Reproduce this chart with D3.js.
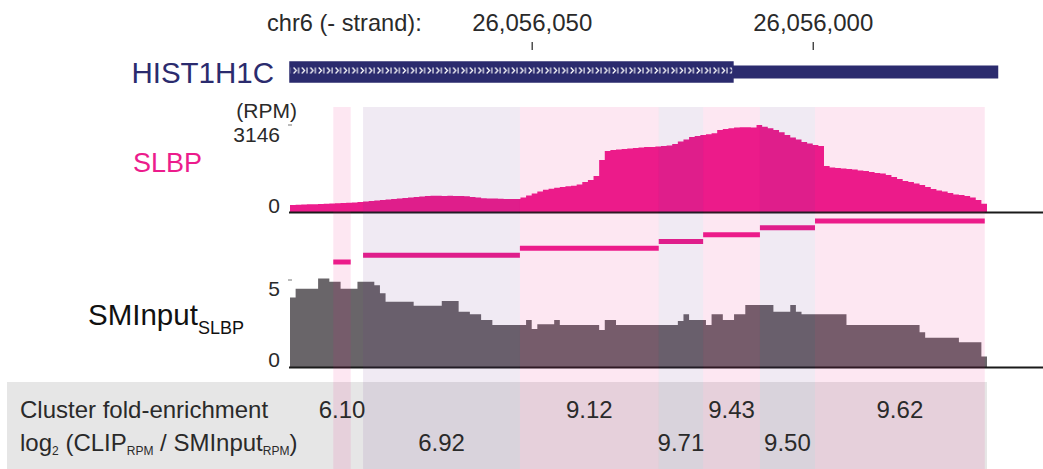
<!DOCTYPE html>
<html>
<head>
<meta charset="utf-8">
<script src="https://cdn.jsdelivr.net/npm/d3@7"></script>
<style>
  html, body { margin: 0; padding: 0; background: #fff; }
  svg { display: block; }
  text { font-family: "Liberation Sans", Arial, Helvetica, sans-serif; }
</style>
</head>
<body>
<svg id="chart" width="1043" height="469"></svg>
<script>
// ---- genomic window (minus strand: coordinates decrease left → right)
const viewStart = 26056093;
const viewEnd = 26055969;
const axisTicks = [26056050, 26056000];
const axisTitle = "chr6 (- strand):";

// ---- gene model
const geneName = "HIST1H1C";
const geneStart = 26056093;
const geneCdsEnd = 26056014.2;
const geneEnd = 26055967;

// ---- per-base coverage, first base = binStart, one value per base moving right
const binStart = 26056093;
const slbpRPM = [
  253, 260, 268, 276, 282, 289, 297, 307, 315, 325,
  336, 347, 362, 380, 394, 412, 430, 452, 470, 488,
  506, 524, 542, 560, 579, 589, 586, 579, 586, 579,
  579, 571, 542, 524, 495, 488, 485, 477, 474, 470,
  470, 524, 597, 669, 741, 803, 839, 875, 904, 929,
  947, 994, 1085, 1157, 1302, 1880, 2206, 2242, 2260, 2278,
  2296, 2314, 2332, 2350, 2350, 2368, 2387, 2405, 2459, 2549,
  2622, 2712, 2748, 2784, 2810, 2846, 2965, 3001, 3027, 3056,
  3063, 3063, 3056, 3146, 3081, 3027, 2965, 2882, 2784, 2694,
  2622, 2531, 2477, 2423, 2387, 1663, 1609, 1591, 1573, 1555,
  1537, 1501, 1483, 1446, 1410, 1392, 1338, 1266, 1193, 1121,
  1085, 1031, 976, 904, 832, 777, 741, 687, 633, 615,
  579, 524, 434, 300
];
const inputRPM = [
  4.00, 4.50, 4.50, 4.50, 4.50, 5.08, 5.08, 4.90, 4.90, 4.50,
  4.50, 4.50, 4.90, 4.90, 4.90, 4.70, 4.24, 3.75, 3.75, 3.75,
  3.75, 3.75, 3.52, 3.52, 3.52, 3.52, 3.52, 3.79, 3.79, 3.79,
  3.18, 3.18, 3.03, 3.03, 2.70, 2.70, 2.41, 2.41, 2.41, 2.41,
  2.41, 2.41, 2.70, 2.18, 2.45, 2.45, 2.45, 2.70, 2.41, 2.41,
  2.41, 2.41, 2.41, 2.41, 2.41, 2.13, 2.70, 2.70, 2.41, 2.41,
  2.41, 2.41, 2.41, 2.41, 2.41, 2.41, 2.41, 2.41, 2.41, 2.64,
  3.03, 2.70, 2.70, 2.70, 2.41, 3.03, 3.03, 2.70, 2.70, 3.03,
  3.03, 3.56, 3.56, 3.56, 3.56, 3.56, 3.18, 3.18, 3.18, 3.56,
  3.18, 3.03, 3.03, 3.03, 3.03, 3.03, 3.03, 3.03, 3.03, 2.41,
  2.41, 2.41, 2.41, 2.41, 2.41, 2.41, 2.41, 2.41, 2.41, 2.41,
  2.41, 2.41, 1.99, 1.68, 1.68, 1.68, 1.68, 1.68, 1.68, 1.42,
  1.42, 1.42, 1.42, 0.60
];
const slbpMax = 3146;
const inputMax = 5;

// ---- CLIP clusters
const clusterStart = [26056085.3, 26056080.0, 26056052.1, 26056027.4, 26056019.5, 26056009.4, 26055999.6];
const clusterEnd   = [26056082.2, 26056052.1, 26056027.4, 26056019.5, 26056009.4, 26055999.6, 26055969.4];
const clusterFold  = ["6.10", "6.92", "9.12", "9.71", "9.43", "9.50", "9.62"];

// ---- styling
const MAGENTA = "#ec1c8c";
const NAVY = "#2b2b6e";
const GREY_FILL = "#696569";
const TEXT = "#2a2a2a";

const svg = d3.select("#chart");

const x = d3.scaleLinear().domain([viewStart, viewEnd]).range([290, 987]);
const ySlbp = d3.scaleLinear().domain([0, slbpMax]).range([212, 125]);
const yInput = d3.scaleLinear().domain([0, inputMax]).range([367, 280]);
const yLane = d3.scalePoint().domain(d3.range(clusterFold.length)).range([262, 221]);

const clusters = clusterFold.map((v, i) => ({ i, start: clusterStart[i], end: clusterEnd[i], label: v }));

// ---- bottom summary panel
svg.append("rect").attr("x", 7).attr("y", 382).attr("width", 980).attr("height", 87).attr("fill", "#e6e6e6");

// ---- genomic axis
svg.append("text").attr("x", 267).attr("y", 31).attr("font-size", 23.6).attr("fill", TEXT).text(axisTitle);
const axisG = svg.append("g").attr("transform", "translate(0,42)");
const axis = d3.axisTop(x).tickValues(axisTicks).tickSize(0).tickFormat(d3.format(","));
axisG.call(axis);
axisG.select(".domain").remove();
axisG.selectAll(".tick text").attr("font-size", 24).attr("fill", TEXT).attr("dy", "-0.02em")
  .attr("y", -11).attr("font-family", '"Liberation Sans", Arial, sans-serif');
axisG.selectAll(".tick").append("line").attr("y1", 0).attr("y2", 8).attr("stroke", "#333").attr("stroke-width", 1.3);

// ---- gene model
svg.append("text").attr("x", 274).attr("y", 83).attr("text-anchor", "end")
  .attr("font-size", 29.5).attr("fill", NAVY).text(geneName);

const defs = svg.append("defs");
const pat = defs.append("pattern").attr("id", "strandArrows").attr("patternUnits", "userSpaceOnUse")
  .attr("width", 8.4).attr("height", 20).attr("x", x(geneStart) + 2);
pat.append("rect").attr("width", 8.4).attr("height", 20).attr("fill", NAVY);
pat.append("path").attr("d", "M1.5,7.5 L4.3,10.5 L1.5,13.5").attr("fill", "none").attr("stroke", "#fff").attr("stroke-width", 1.2);
pat.append("path").attr("d", "M6.6,7.5 V13.5").attr("stroke", "#fff").attr("stroke-width", 1.1);

svg.append("rect").attr("x", x(geneCdsEnd)).attr("y", 65.5)
  .attr("width", x(geneEnd) - x(geneCdsEnd)).attr("height", 13).attr("fill", NAVY);
svg.append("rect").attr("x", x(geneStart)).attr("y", 62)
  .attr("width", x(geneCdsEnd) - x(geneStart)).attr("height", 20)
  .attr("fill", "url(#strandArrows)").attr("stroke", NAVY).attr("stroke-width", 1.5);

// ---- coverage tracks
function binPoints(values) {
  const pts = values.map((v, i) => ({ pos: binStart - i, v }));
  pts.push({ pos: binStart - values.length, v: values[values.length - 1] });
  return pts;
}

const slbpArea = d3.area().curve(d3.curveStepAfter)
  .x(d => x(d.pos)).y0(ySlbp(0)).y1(d => ySlbp(d.v));
svg.append("path").datum(binPoints(slbpRPM)).attr("d", slbpArea).attr("fill", MAGENTA);

const inputArea = d3.area().curve(d3.curveStepAfter)
  .x(d => x(d.pos)).y0(yInput(0)).y1(d => yInput(d.v));
svg.append("path").datum(binPoints(inputRPM)).attr("d", inputArea).attr("fill", GREY_FILL);

// baselines
[ySlbp(0), yInput(0)].forEach(y0 => {
  svg.append("line").attr("x1", 289).attr("x2", 1043).attr("y1", y0 + 0.5).attr("y2", y0 + 0.5)
    .attr("stroke", "#1a1a1a").attr("stroke-width", 2);
});

// cluster lanes
svg.append("g").selectAll("line").data(clusters).join("line")
  .attr("x1", d => x(d.start)).attr("x2", d => x(d.end))
  .attr("y1", d => yLane(d.i)).attr("y2", d => yLane(d.i))
  .attr("stroke", MAGENTA).attr("stroke-width", 5);

// cluster shading across all tracks
svg.append("g").selectAll("rect").data(clusters).join("rect")
  .attr("x", d => x(d.start)).attr("width", d => x(d.end) - x(d.start))
  .attr("y", 107).attr("height", 469 - 107)
  .attr("fill", d => d.i % 2 === 0 ? "rgba(236,20,130,0.10)" : "rgba(105,45,135,0.10)");

// ---- track scale labels
svg.append("text").attr("x", 297).attr("y", 118).attr("text-anchor", "end").attr("font-size", 21).attr("fill", TEXT).text("(RPM)");
function scaleLabel(y, value, base) {
  svg.append("text").attr("x", 280).attr("y", base).attr("text-anchor", "end").attr("font-size", 21).attr("fill", TEXT).text(value);
  svg.append("line").attr("x1", 288).attr("x2", 292).attr("y1", y).attr("y2", y).attr("stroke", "#777").attr("stroke-width", 1);
}
scaleLabel(ySlbp(slbpMax), slbpMax, 142);
svg.append("text").attr("x", 280).attr("y", 213).attr("text-anchor", "end").attr("font-size", 21).attr("fill", TEXT).text("0");
scaleLabel(yInput(inputMax), inputMax, 296);
svg.append("text").attr("x", 280).attr("y", 367).attr("text-anchor", "end").attr("font-size", 21).attr("fill", TEXT).text("0");

// track names
svg.append("text").attr("x", 202).attr("y", 172).attr("text-anchor", "end").attr("font-size", 27).attr("fill", MAGENTA).text("SLBP");
const smi = svg.append("text").attr("x", 88).attr("y", 325).attr("font-size", 29.5).attr("fill", "#111");
smi.append("tspan").text("SMInput");
smi.append("tspan").attr("font-size", 18).attr("dy", 9).text("SLBP");

// ---- fold-enrichment panel
svg.append("text").attr("x", 20).attr("y", 418).attr("font-size", 24).attr("fill", TEXT).text("Cluster fold-enrichment");
const lg = svg.append("text").attr("x", 20).attr("y", 451).attr("font-size", 24).attr("fill", TEXT);
lg.append("tspan").text("log");
lg.append("tspan").attr("font-size", 12).attr("dy", 4).text("2");
lg.append("tspan").attr("dy", -4).text(" (CLIP");
lg.append("tspan").attr("font-size", 12).attr("dy", 4).text("RPM");
lg.append("tspan").attr("dy", -4).text(" / SMInput");
lg.append("tspan").attr("font-size", 12).attr("dy", 4).text("RPM");
lg.append("tspan").attr("dy", -4).text(")");

svg.append("g").selectAll("text").data(clusters).join("text")
  .attr("x", d => (x(d.start) + x(d.end)) / 2)
  .attr("y", d => d.i % 2 === 0 ? 418 : 451)
  .attr("text-anchor", "middle").attr("font-size", 24).attr("fill", TEXT)
  .text(d => d.label);
</script>
</body>
</html>
